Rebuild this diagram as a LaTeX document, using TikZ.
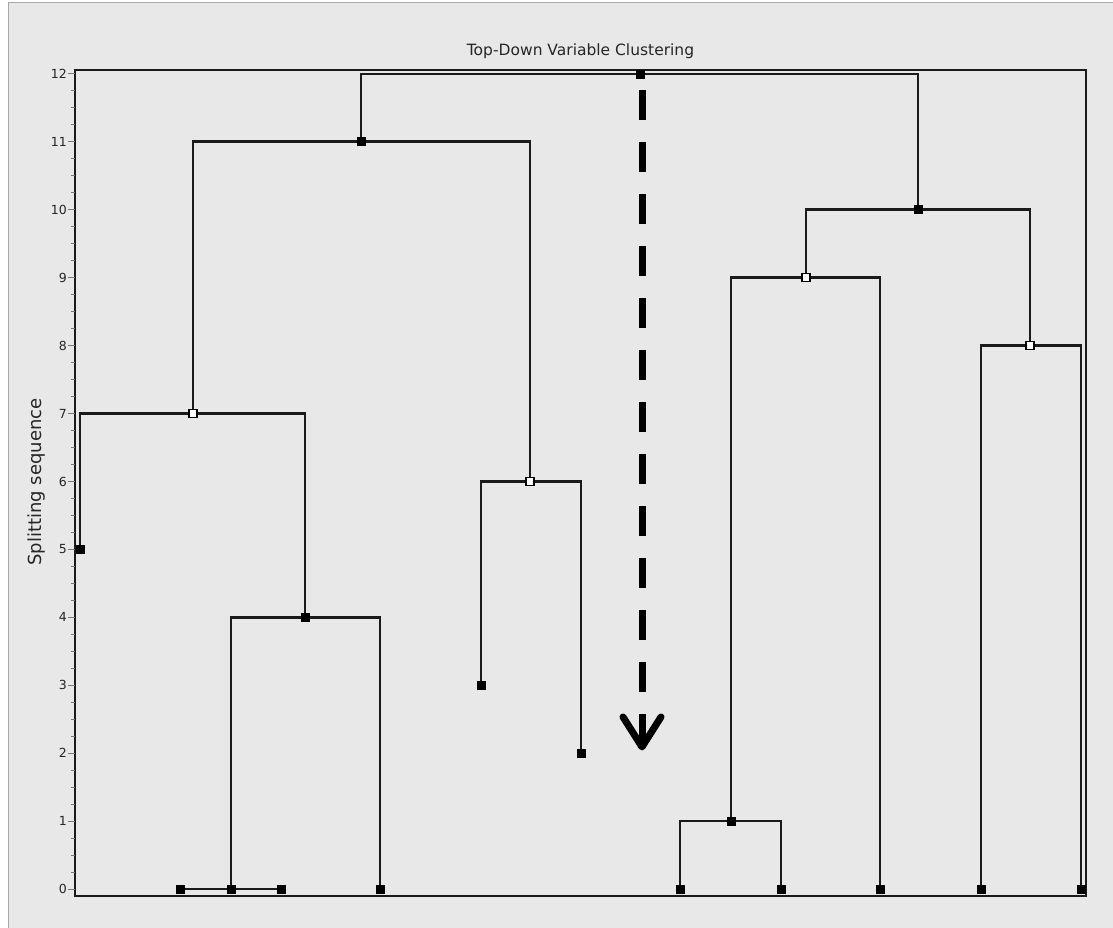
\documentclass[tikz,border=0pt]{standalone}
\usepackage{fontspec}
\setmainfont{DejaVu Sans}
\usepackage{xcolor}
\usepackage{tikz}
\usetikzlibrary{arrows.meta}
\definecolor{panelgrey}{RGB}{232,232,232}
\definecolor{edgegrey}{RGB}{168,168,168}
\definecolor{tickgrey}{RGB}{120,120,120}
\definecolor{linedark}{RGB}{26,26,26}
\pgfdeclarelayer{back}
\pgfdeclarelayer{edges}
\pgfsetlayers{back,edges,main}
\tikzstyle{fullmark} = [rectangle, draw=black, fill=black, minimum size=8pt, inner sep=0pt, line width=0.8pt]
\tikzstyle{openmark} = [rectangle, draw=black, fill=white, minimum size=8pt, inner sep=0pt, line width=1.4pt]
\tikzstyle{branch} = [line width=2.8pt, draw=linedark]
\tikzstyle{frameline} = [line width=1.3pt, draw=linedark]
\tikzstyle{ticklabel} = [anchor=east, inner sep=0pt, font=\fontsize{12.5}{14}\selectfont, text=black!85]
\tikzstyle{arrowshaft} = [line width=7pt, draw=black, dash pattern=on 30pt off 22pt]
\tikzstyle{arrowtip} = [line width=7pt, draw=black, -{Straight Barb[length=30pt, width=38pt, round]}]

\begin{document}
\begin{tikzpicture}[x=1pt, y=-1pt]
    \useasboundingbox (0,0) rectangle (1113,928);
    \begin{pgfonlayer}{back}
        \fill[white] (0,0) rectangle (1113,928);
        \filldraw[fill=panelgrey, draw=edgegrey, line width=1pt] (8,3) rectangle (1120,935);
    \end{pgfonlayer}

    % title and axis label
    \node[font=\fontsize{15.5}{18}\selectfont, text=black!85] (title) at (580.5,51) {Top-Down Variable Clustering};
    \node[font=\fontsize{18}{21}\selectfont, text=black!85, rotate=90] (ylabel) at (37,482) {Splitting sequence};

    % frame
    \draw[frameline] (75,70) rectangle (1086,896);
    \draw[line width=2pt, draw=linedark] (75,70) -- (75,896);

    \begin{scope}[shift={(0,889)}, y=67.92pt]
        % ticks
        \foreach \v in {0,...,12} {
            \draw[tickgrey, line width=1pt] (68,\v) -- (75,\v);
            \node[ticklabel] (tick\v) at (67,\v) {\v};
        }
        \foreach \v in {0,...,11} {
            \foreach \q in {0.25,0.5,0.75} {
                \draw[tickgrey, line width=1pt] (71,\v+\q) -- (75,\v+\q);
            }
        }

        % split points
        \node[fullmark] (root) at (640,12) {};
        \node[fullmark] (a11) at (361,11) {};
        \node[openmark] (a7) at (193,7) {};
        \node[fullmark] (l5) at (80,5) {};
        \node[fullmark] (a4) at (305,4) {};
        \node[fullmark] (a0) at (231,0) {};
        \node[fullmark] (b0) at (180,0) {};
        \node[fullmark] (c0) at (281,0) {};
        \node[fullmark] (d0) at (380,0) {};
        \node[openmark] (a6) at (530,6) {};
        \node[fullmark] (l3) at (481,3) {};
        \node[fullmark] (l2) at (581,2) {};
        \node[fullmark] (b10) at (918,10) {};
        \node[openmark] (b9) at (806,9) {};
        \node[fullmark] (b1) at (731,1) {};
        \node[fullmark] (e0) at (680,0) {};
        \node[fullmark] (f0) at (781,0) {};
        \node[fullmark] (g0) at (880,0) {};
        \node[openmark] (b8) at (1030,8) {};
        \node[fullmark] (h0) at (981,0) {};
        \node[fullmark] (i0) at (1081,0) {};

        % top-down arrow
        \coordinate (arrtop) at (642,11.76);
        \coordinate (arrneck) at (642,2.1);
        \coordinate (arrbot) at (642,2.04);
    \end{scope}

    \begin{pgfonlayer}{edges}
        \draw[branch] (a11.center) |- (root.center) -| (b10.center);
        \draw[branch] (a7.center) |- (a11.center) -| (a6.center);
        \draw[branch] (l5.center) |- (a7.center) -| (a4.center);
        \draw[branch] (a0.center) |- (a4.center) -| (d0.center);
        \draw[branch] (b0.center) -- (c0.center);
        \draw[branch] (l3.center) |- (a6.center) -| (l2.center);
        \draw[branch] (b9.center) |- (b10.center) -| (b8.center);
        \draw[branch] (b1.center) |- (b9.center) -| (g0.center);
        \draw[branch] (e0.center) |- (b1.center) -| (f0.center);
        \draw[branch] (h0.center) |- (b8.center) -| (i0.center);
    \end{pgfonlayer}

    \draw[arrowshaft] (arrtop) -- (arrbot);
    \draw[arrowtip] (arrneck) -- (arrbot);
\end{tikzpicture}
\end{document}
